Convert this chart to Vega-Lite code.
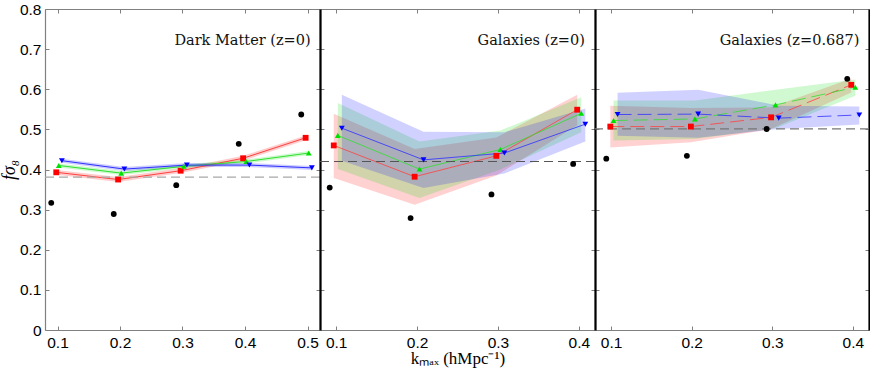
{
  "$schema": "https://vega.github.io/schema/vega-lite/v6.json",
  "background": "white",
  "padding": {"left": 0, "top": 2, "right": 0, "bottom": 2},
  "bounds": "flush",
  "spacing": 0,
  "config": {
    "view": {"stroke": null},
    "axis": {
      "grid": false,
      "domainColor": "#808080",
      "domainWidth": 1.2,
      "tickColor": "#808080",
      "tickSize": -4,
      "labelFont": "Liberation Sans",
      "labelFontSize": 15.5,
      "labelColor": "#000000",
      "titleFont": "Liberation Serif",
      "titleFontSize": 17,
      "titleFontWeight": "normal",
      "titleColor": "#000000"
    }
  },
  "datasets": {
    "pts": [
      {"p": "DM", "s": "black", "x": 0.09, "y": 0.317},
      {"p": "DM", "s": "black", "x": 0.19, "y": 0.289},
      {"p": "DM", "s": "black", "x": 0.29, "y": 0.361},
      {"p": "DM", "s": "black", "x": 0.39, "y": 0.464},
      {"p": "DM", "s": "black", "x": 0.49, "y": 0.537},
      {"p": "DM", "s": "red", "x": 0.098, "y": 0.393, "lo": 0.387, "hi": 0.399},
      {"p": "DM", "s": "red", "x": 0.197, "y": 0.375, "lo": 0.369, "hi": 0.381},
      {"p": "DM", "s": "red", "x": 0.297, "y": 0.397, "lo": 0.391, "hi": 0.403},
      {"p": "DM", "s": "red", "x": 0.397, "y": 0.428, "lo": 0.422, "hi": 0.434},
      {"p": "DM", "s": "red", "x": 0.497, "y": 0.479, "lo": 0.473, "hi": 0.485},
      {"p": "DM", "s": "green", "x": 0.102, "y": 0.41, "lo": 0.405, "hi": 0.415},
      {"p": "DM", "s": "green", "x": 0.202, "y": 0.391, "lo": 0.386, "hi": 0.396},
      {"p": "DM", "s": "green", "x": 0.302, "y": 0.408, "lo": 0.403, "hi": 0.413},
      {"p": "DM", "s": "green", "x": 0.402, "y": 0.42, "lo": 0.415, "hi": 0.425},
      {"p": "DM", "s": "green", "x": 0.502, "y": 0.441, "lo": 0.436, "hi": 0.446},
      {"p": "DM", "s": "blue", "x": 0.107, "y": 0.422, "lo": 0.417, "hi": 0.427},
      {"p": "DM", "s": "blue", "x": 0.207, "y": 0.401, "lo": 0.396, "hi": 0.406},
      {"p": "DM", "s": "blue", "x": 0.307, "y": 0.411, "lo": 0.406, "hi": 0.416},
      {"p": "DM", "s": "blue", "x": 0.407, "y": 0.411, "lo": 0.406, "hi": 0.416},
      {"p": "DM", "s": "blue", "x": 0.507, "y": 0.404, "lo": 0.399, "hi": 0.409},
      {"p": "G0", "s": "black", "x": 0.092, "y": 0.355},
      {"p": "G0", "s": "black", "x": 0.192, "y": 0.279},
      {"p": "G0", "s": "black", "x": 0.292, "y": 0.338},
      {"p": "G0", "s": "black", "x": 0.393, "y": 0.414},
      {"p": "G0", "s": "red", "x": 0.097, "y": 0.46, "lo": 0.379, "hi": 0.539},
      {"p": "G0", "s": "red", "x": 0.197, "y": 0.382, "lo": 0.312, "hi": 0.451},
      {"p": "G0", "s": "red", "x": 0.298, "y": 0.434, "lo": 0.385, "hi": 0.48},
      {"p": "G0", "s": "red", "x": 0.398, "y": 0.549, "lo": 0.51, "hi": 0.586},
      {"p": "G0", "s": "green", "x": 0.102, "y": 0.485, "lo": 0.401, "hi": 0.566},
      {"p": "G0", "s": "green", "x": 0.203, "y": 0.401, "lo": 0.329, "hi": 0.47},
      {"p": "G0", "s": "green", "x": 0.303, "y": 0.45, "lo": 0.4, "hi": 0.497},
      {"p": "G0", "s": "green", "x": 0.403, "y": 0.54, "lo": 0.493, "hi": 0.58},
      {"p": "G0", "s": "blue", "x": 0.107, "y": 0.503, "lo": 0.422, "hi": 0.586},
      {"p": "G0", "s": "blue", "x": 0.208, "y": 0.424, "lo": 0.354, "hi": 0.494},
      {"p": "G0", "s": "blue", "x": 0.308, "y": 0.441, "lo": 0.39, "hi": 0.493},
      {"p": "G0", "s": "blue", "x": 0.408, "y": 0.513, "lo": 0.47, "hi": 0.552},
      {"p": "G687", "s": "black", "x": 0.094, "y": 0.427},
      {"p": "G687", "s": "black", "x": 0.194, "y": 0.434},
      {"p": "G687", "s": "black", "x": 0.293, "y": 0.501},
      {"p": "G687", "s": "black", "x": 0.393, "y": 0.626},
      {"p": "G687", "s": "red", "x": 0.099, "y": 0.507, "lo": 0.455, "hi": 0.559},
      {"p": "G687", "s": "red", "x": 0.199, "y": 0.507, "lo": 0.468, "hi": 0.553},
      {"p": "G687", "s": "red", "x": 0.2985, "y": 0.53, "lo": 0.501, "hi": 0.555},
      {"p": "G687", "s": "red", "x": 0.398, "y": 0.611, "lo": 0.592, "hi": 0.627},
      {"p": "G687", "s": "green", "x": 0.103, "y": 0.522, "lo": 0.472, "hi": 0.572},
      {"p": "G687", "s": "green", "x": 0.204, "y": 0.526, "lo": 0.476, "hi": 0.572},
      {"p": "G687", "s": "green", "x": 0.304, "y": 0.561, "lo": 0.503, "hi": 0.599},
      {"p": "G687", "s": "green", "x": 0.403, "y": 0.605, "lo": 0.584, "hi": 0.624},
      {"p": "G687", "s": "blue", "x": 0.108, "y": 0.537, "lo": 0.484, "hi": 0.591},
      {"p": "G687", "s": "blue", "x": 0.208, "y": 0.538, "lo": 0.479, "hi": 0.599},
      {"p": "G687", "s": "blue", "x": 0.308, "y": 0.528, "lo": 0.501, "hi": 0.559},
      {"p": "G687", "s": "blue", "x": 0.408, "y": 0.536, "lo": 0.512, "hi": 0.557}
    ],
    "notes": [
      {"p": "DM", "x": 0.505, "y": 0.721, "t": "Dark Matter (z=0)", "ref": 0.381},
      {"p": "G0", "x": 0.4075, "y": 0.721, "t": "Galaxies (z=0)", "ref": 0.42},
      {"p": "G687", "x": 0.408, "y": 0.721, "t": "Galaxies (z=0.687)", "ref": 0.501}
    ]
  },
  "hconcat": [
    {
      "width": 275, "height": 321,
      "resolve": {"axis": {"x": "independent", "y": "independent"}},
      "layer": [
        {
          "data": {"name": "pts"},
          "transform": [{"filter": "datum.p == 'DM' && datum.s != 'black'"}],
          "mark": {"type": "area", "fillOpacity": 0.2},
          "encoding": {
            "x": {"field": "x", "type": "quantitative", "scale": {"domain": [0.08, 0.52], "nice": false, "zero": false},
                  "axis": {"values": [0.1, 0.2, 0.3, 0.4, 0.5], "format": ".1f", "labelPadding": 9, "title": null}},
            "y": {"field": "lo", "type": "quantitative", "scale": {"domain": [0, 0.8], "nice": false},
                  "axis": {"values": [0, 0.1, 0.2, 0.3, 0.4, 0.5, 0.6, 0.7, 0.8], "format": ".1~f", "labelPadding": 8, "title": "fσ₈", "titleFontStyle": "italic", "titleFontSize": 18, "titlePadding": 1}},
            "y2": {"field": "hi"},
            "fill": {"field": "s", "type": "nominal", "scale": {"domain": ["black", "red", "green", "blue"], "range": ["#000000", "#ff0000", "#00e000", "#0000ff"]}, "legend": null}
          }
        },
        {
          "data": {"name": "pts"},
          "transform": [{"filter": "datum.p == 'DM' && datum.s != 'black'"}],
          "mark": {"type": "line", "strokeWidth": 1},
          "encoding": {
            "x": {"field": "x", "type": "quantitative", "axis": null},
            "y": {"field": "y", "type": "quantitative", "axis": null},
            "stroke": {"field": "s", "type": "nominal", "scale": {"domain": ["black", "red", "green", "blue"], "range": ["#000000", "#ff4040", "#30e030", "#3030ff"]}, "legend": null}
          }
        },
        {
          "data": {"name": "notes"},
          "transform": [{"filter": "datum.p == 'DM'"}],
          "mark": {"type": "rule", "strokeDash": [9, 5], "strokeWidth": 1.3, "color": "#a8a8a8"},
          "encoding": {"y": {"field": "ref", "type": "quantitative", "axis": null}}
        },
        {
          "data": {"name": "pts"},
          "transform": [{"filter": "datum.p == 'DM'"}],
          "mark": {"type": "point", "filled": true, "opacity": 1, "size": 34},
          "encoding": {
            "x": {"field": "x", "type": "quantitative", "axis": {"orient": "top", "values": [0.1, 0.2, 0.3, 0.4, 0.5], "labels": false, "title": null}},
            "y": {"field": "y", "type": "quantitative", "axis": {"orient": "right", "values": [0, 0.1, 0.2, 0.3, 0.4, 0.5, 0.6, 0.7, 0.8], "labels": false, "title": null}},
            "fill": {"field": "s", "type": "nominal", "legend": null},
            "shape": {"field": "s", "type": "nominal", "scale": {"domain": ["black", "red", "green", "blue"], "range": ["circle", "square", "triangle-up", "triangle-down"]}, "legend": null}
          }
        },
        {
          "data": {"name": "notes"},
          "transform": [{"filter": "datum.p == 'DM'"}],
          "mark": {"type": "text", "align": "right", "baseline": "middle", "font": "DejaVu Serif", "fontSize": 14.5, "color": "#111111"},
          "encoding": {
            "x": {"field": "x", "type": "quantitative", "axis": null},
            "y": {"field": "y", "type": "quantitative", "axis": null},
            "text": {"field": "t"}
          }
        }
      ]
    },
    {
      "width": 275, "height": 321,
      "resolve": {"axis": {"x": "independent", "y": "independent"}},
      "layer": [
        {
          "data": {"name": "pts"},
          "transform": [{"filter": "datum.p == 'G0' && datum.s != 'black'"}],
          "mark": {"type": "area", "fillOpacity": 0.18},
          "encoding": {
            "x": {"field": "x", "type": "quantitative", "scale": {"domain": [0.08, 0.42], "nice": false, "zero": false},
                  "axis": {"values": [0.1, 0.2, 0.3, 0.4], "format": ".1f", "labelPadding": 9, "title": "kₘₐₓ (hMpc⁻¹)", "titlePadding": 0}},
            "y": {"field": "lo", "type": "quantitative", "scale": {"domain": [0, 0.8], "nice": false},
                  "axis": {"values": [0, 0.1, 0.2, 0.3, 0.4, 0.5, 0.6, 0.7, 0.8], "labels": false, "title": null, "domainColor": "#000000", "domainWidth": 2.2}},
            "y2": {"field": "hi"},
            "fill": {"field": "s", "type": "nominal", "scale": {"domain": ["black", "red", "green", "blue"], "range": ["#000000", "#ff0000", "#00e000", "#0000ff"]}, "legend": null}
          }
        },
        {
          "data": {"name": "pts"},
          "transform": [{"filter": "datum.p == 'G0' && datum.s != 'black'"}],
          "mark": {"type": "line", "strokeWidth": 0.8},
          "encoding": {
            "x": {"field": "x", "type": "quantitative", "axis": null},
            "y": {"field": "y", "type": "quantitative", "axis": null},
            "stroke": {"field": "s", "type": "nominal", "scale": {"domain": ["black", "red", "green", "blue"], "range": ["#000000", "#e02020", "#20b020", "#2020e0"]}, "legend": null}
          }
        },
        {
          "data": {"name": "notes"},
          "transform": [{"filter": "datum.p == 'G0'"}],
          "mark": {"type": "rule", "strokeDash": [9, 5], "strokeWidth": 1.2, "color": "#555555"},
          "encoding": {"y": {"field": "ref", "type": "quantitative", "axis": null}}
        },
        {
          "data": {"name": "pts"},
          "transform": [{"filter": "datum.p == 'G0'"}],
          "mark": {"type": "point", "filled": true, "opacity": 1, "size": 34},
          "encoding": {
            "x": {"field": "x", "type": "quantitative", "axis": {"orient": "top", "values": [0.1, 0.2, 0.3, 0.4], "labels": false, "title": null}},
            "y": {"field": "y", "type": "quantitative", "axis": {"orient": "right", "values": [0, 0.1, 0.2, 0.3, 0.4, 0.5, 0.6, 0.7, 0.8], "labels": false, "title": null}},
            "fill": {"field": "s", "type": "nominal", "scale": {"domain": ["black", "red", "green", "blue"], "range": ["#000000", "#d41a1a", "#10c010", "#1010d8"]}, "legend": null},
            "shape": {"field": "s", "type": "nominal", "scale": {"domain": ["black", "red", "green", "blue"], "range": ["circle", "square", "triangle-up", "triangle-down"]}, "legend": null}
          }
        },
        {
          "data": {"name": "notes"},
          "transform": [{"filter": "datum.p == 'G0'"}],
          "mark": {"type": "text", "align": "right", "baseline": "middle", "font": "DejaVu Serif", "fontSize": 14.5, "color": "#111111"},
          "encoding": {
            "x": {"field": "x", "type": "quantitative", "axis": null},
            "y": {"field": "y", "type": "quantitative", "axis": null},
            "text": {"field": "t"}
          }
        }
      ]
    },
    {
      "width": 274, "height": 321,
      "resolve": {"axis": {"x": "independent", "y": "independent"}},
      "layer": [
        {
          "data": {"name": "pts"},
          "transform": [{"filter": "datum.p == 'G687' && datum.s != 'black'"}],
          "mark": {"type": "area", "fillOpacity": 0.18},
          "encoding": {
            "x": {"field": "x", "type": "quantitative", "scale": {"domain": [0.08, 0.42], "nice": false, "zero": false},
                  "axis": {"values": [0.1, 0.2, 0.3, 0.4], "format": ".1f", "labelPadding": 9, "title": null}},
            "y": {"field": "lo", "type": "quantitative", "scale": {"domain": [0, 0.8], "nice": false},
                  "axis": {"values": [0, 0.1, 0.2, 0.3, 0.4, 0.5, 0.6, 0.7, 0.8], "labels": false, "title": null, "domainColor": "#000000", "domainWidth": 2.2}},
            "y2": {"field": "hi"},
            "fill": {"field": "s", "type": "nominal", "scale": {"domain": ["black", "red", "green", "blue"], "range": ["#000000", "#ff0000", "#00e000", "#0000ff"]}, "legend": null}
          }
        },
        {
          "data": {"name": "pts"},
          "transform": [{"filter": "datum.p == 'G687' && datum.s != 'black'"}],
          "mark": {"type": "line", "strokeWidth": 0.8, "strokeDash": [14, 6]},
          "encoding": {
            "x": {"field": "x", "type": "quantitative", "axis": null},
            "y": {"field": "y", "type": "quantitative", "axis": null},
            "stroke": {"field": "s", "type": "nominal", "scale": {"domain": ["black", "red", "green", "blue"], "range": ["#000000", "#e02020", "#20b020", "#2020e0"]}, "legend": null}
          }
        },
        {
          "data": {"name": "notes"},
          "transform": [{"filter": "datum.p == 'G687'"}],
          "mark": {"type": "rule", "strokeDash": [9, 5], "strokeWidth": 1.2, "color": "#777777"},
          "encoding": {"y": {"field": "ref", "type": "quantitative", "axis": null}}
        },
        {
          "data": {"name": "pts"},
          "transform": [{"filter": "datum.p == 'G687'"}],
          "mark": {"type": "point", "filled": true, "opacity": 1, "size": 34},
          "encoding": {
            "x": {"field": "x", "type": "quantitative", "axis": {"orient": "top", "values": [0.1, 0.2, 0.3, 0.4], "labels": false, "title": null}},
            "y": {"field": "y", "type": "quantitative", "axis": {"orient": "right", "values": [0, 0.1, 0.2, 0.3, 0.4, 0.5, 0.6, 0.7, 0.8], "labels": false, "title": null, "domainColor": "#000000", "domainWidth": 2.2}},
            "fill": {"field": "s", "type": "nominal", "scale": {"domain": ["black", "red", "green", "blue"], "range": ["#000000", "#e01010", "#10d010", "#1010d8"]}, "legend": null},
            "shape": {"field": "s", "type": "nominal", "scale": {"domain": ["black", "red", "green", "blue"], "range": ["circle", "square", "triangle-up", "triangle-down"]}, "legend": null}
          }
        },
        {
          "data": {"name": "notes"},
          "transform": [{"filter": "datum.p == 'G687'"}],
          "mark": {"type": "text", "align": "right", "baseline": "middle", "font": "DejaVu Serif", "fontSize": 14.5, "color": "#111111"},
          "encoding": {
            "x": {"field": "x", "type": "quantitative", "axis": null},
            "y": {"field": "y", "type": "quantitative", "axis": null},
            "text": {"field": "t"}
          }
        }
      ]
    }
  ]
}
